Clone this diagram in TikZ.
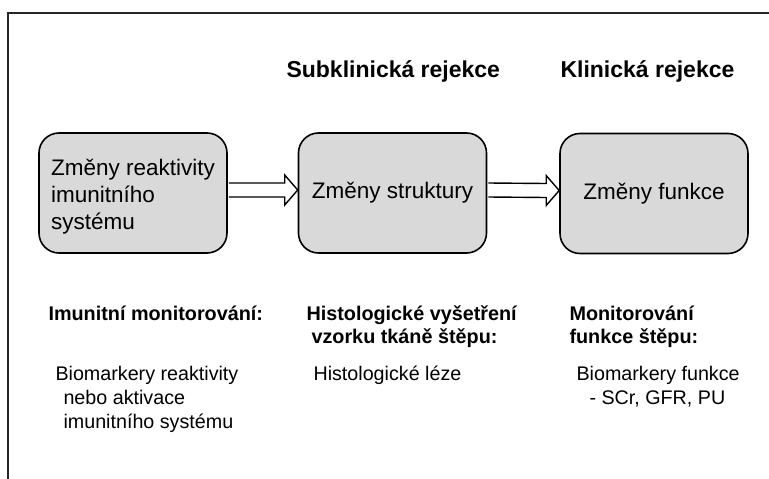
\documentclass[tikz,border=0pt]{standalone}
\usepackage{fontspec}
\setmainfont{Liberation Sans}
\definecolor{boxgray}{HTML}{D9D9D9}
\tikzset{
  stage/.style={draw, line width=1.6pt, fill=boxgray, rounded corners=20pt,
    minimum width=188pt, minimum height=120pt, align=left,
    font=\fontsize{22.5}{27}\selectfont},
  fatarrow/.style={draw, line width=1.4pt, fill=white, line join=miter},
  stagetitle/.style={anchor=base west, font=\fontsize{23}{27}\selectfont\bfseries},
  colhead/.style={anchor=base west, align=left, font=\fontsize{19.8}{23.5}\selectfont\bfseries},
  colbody/.style={anchor=base west, align=left, font=\fontsize{19.7}{24}\selectfont}
}
\begin{document}
\begin{tikzpicture}[x=1pt,y=-1pt]
\useasboundingbox (0,0) rectangle (769,479);

% draw frame
\draw[line width=2pt, black!85] (769,13) -- (8,13) -- (8,479);

% draw titles
\node[stagetitle] (subtitle) at (283,77) {Subklinická rejekce};
\node[stagetitle] (kltitle) at (557,77) {Klinická rejekce};

% draw stages
\node[stage] (imun) at (133,193) {\rule{0pt}{24pt}Změny reaktivity\\imunitního\\systému};
\node[stage] (struk) at (392.5,193) {Změny struktury};
\node[stage] (funk) at (654,193.5) {Změny funkce};

% draw arrows
\foreach \a/\b in {imun/struk,struk/funk}
{
\draw[fatarrow] ([xshift=1pt,yshift=10pt]\a.east) -- ([xshift=-13pt,yshift=10pt]\b.west)
  -- ([xshift=-13pt,yshift=18pt]\b.west) -- ([yshift=3pt]\b.west)
  -- ([xshift=-13pt,yshift=-12pt]\b.west) -- ([xshift=-13pt,yshift=-4pt]\b.west)
  -- ([xshift=1pt,yshift=-4pt]\a.east);
}

% draw columns (anchored at last line)
\node[colhead] (imunhead) at (45,320) {Imunitní monitorování:};
\node[colhead] (histhead) at (303,343.5) {Histologické vyšetření\\\hspace*{5pt}vzorku tkáně štěpu:};
\node[colhead] (funkhead) at (566,343.5) {Monitorování\\funkce štěpu:};

\node[colbody] (imunbody) at (52,428) {Biomarkery reaktivity\\\hspace*{8pt}nebo aktivace\\\hspace*{8pt}imunitního systému};
\node[colbody] (histbody) at (310,380) {Histologické léze};
\node[colbody] (funkbody) at (573,404) {Biomarkery funkce\\\hspace*{13pt}- SCr, GFR, PU};
\end{tikzpicture}
\end{document}
